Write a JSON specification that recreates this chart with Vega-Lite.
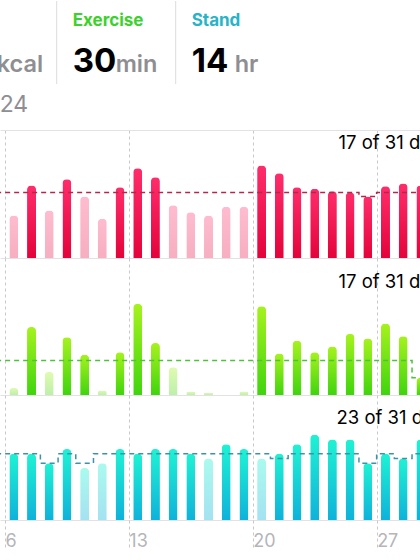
{
  "$schema": "https://vega.github.io/schema/vega-lite/v6.json",
  "padding": 0,
  "spacing": 0,
  "background": "white",
  "config": {"view": {"stroke": null}, "axis": {"minExtent": 0}, "font": "Inter", "concat": {"spacing": 0}},
  "datasets": {
    "header": [
      {"metric": "Move", "title": "", "goal": "", "unit": "kcal", "note": "24"},
      {"metric": "Exercise", "title": "Exercise", "goal": "30", "unit": "min", "note": ""},
      {"metric": "Stand", "title": "Stand", "goal": "14", "unit": "hr", "note": ""}
    ],
    "days": [
      {"day": 5, "move": 299, "moveGoal": 500, "exercise": 0, "exerciseGoal": 30, "stand": 12, "standGoal": 14},
      {"day": 6, "move": 324, "moveGoal": 500, "exercise": 6, "exerciseGoal": 30, "stand": 14, "standGoal": 14},
      {"day": 7, "move": 553, "moveGoal": 500, "exercise": 59, "exerciseGoal": 30, "stand": 14, "standGoal": 14},
      {"day": 8, "move": 363, "moveGoal": 500, "exercise": 20, "exerciseGoal": 30, "stand": 12, "standGoal": 12},
      {"day": 9, "move": 602, "moveGoal": 500, "exercise": 50, "exerciseGoal": 30, "stand": 15, "standGoal": 14},
      {"day": 10, "move": 469, "moveGoal": 500, "exercise": 35, "exerciseGoal": 30, "stand": 11, "standGoal": 12},
      {"day": 11, "move": 299, "moveGoal": 500, "exercise": 4, "exerciseGoal": 30, "stand": 12, "standGoal": 14},
      {"day": 12, "move": 540, "moveGoal": 500, "exercise": 37, "exerciseGoal": 30, "stand": 15, "standGoal": 14},
      {"day": 13, "move": 685, "moveGoal": 500, "exercise": 79, "exerciseGoal": 30, "stand": 14, "standGoal": 14},
      {"day": 14, "move": 617, "moveGoal": 500, "exercise": 45, "exerciseGoal": 30, "stand": 15, "standGoal": 14},
      {"day": 15, "move": 403, "moveGoal": 500, "exercise": 24, "exerciseGoal": 30, "stand": 15, "standGoal": 14},
      {"day": 16, "move": 350, "moveGoal": 500, "exercise": 3, "exerciseGoal": 30, "stand": 14, "standGoal": 14},
      {"day": 17, "move": 324, "moveGoal": 500, "exercise": 2, "exerciseGoal": 30, "stand": 13, "standGoal": 14},
      {"day": 18, "move": 391, "moveGoal": 500, "exercise": 0, "exerciseGoal": 30, "stand": 16, "standGoal": 14},
      {"day": 19, "move": 391, "moveGoal": 500, "exercise": 3, "exerciseGoal": 30, "stand": 15, "standGoal": 14},
      {"day": 20, "move": 706, "moveGoal": 500, "exercise": 77, "exerciseGoal": 30, "stand": 13, "standGoal": 14},
      {"day": 21, "move": 647, "moveGoal": 500, "exercise": 36, "exerciseGoal": 30, "stand": 14, "standGoal": 13},
      {"day": 22, "move": 540, "moveGoal": 500, "exercise": 47, "exerciseGoal": 30, "stand": 16, "standGoal": 14},
      {"day": 23, "move": 528, "moveGoal": 500, "exercise": 37, "exerciseGoal": 30, "stand": 18, "standGoal": 14},
      {"day": 24, "move": 510, "moveGoal": 500, "exercise": 42, "exerciseGoal": 30, "stand": 17, "standGoal": 14},
      {"day": 25, "move": 500, "moveGoal": 500, "exercise": 53, "exerciseGoal": 30, "stand": 17, "standGoal": 14},
      {"day": 26, "move": 469, "moveGoal": 469, "exercise": 49, "exerciseGoal": 30, "stand": 12, "standGoal": 12},
      {"day": 27, "move": 548, "moveGoal": 500, "exercise": 62, "exerciseGoal": 30, "stand": 14, "standGoal": 14},
      {"day": 28, "move": 569, "moveGoal": 500, "exercise": 51, "exerciseGoal": 30, "stand": 13, "standGoal": 13},
      {"day": 29, "move": 553, "moveGoal": 500, "exercise": 15, "exerciseGoal": 15, "stand": 17, "standGoal": 14}
    ]
  },
  "vconcat": [
    {
      "width": 420,
      "height": 83,
      "data": {"name": "header"},
      "encoding": {
        "x": {"field": "metric", "type": "nominal", "scale": {"type": "point", "domain": ["Move", "Exercise", "Stand"], "range": [-46.3, 191.7], "padding": 0}, "axis": null}
      },
      "layer": [
        {
          "transform": [{"filter": "datum.metric != 'Move'"}],
          "mark": {"type": "rule", "color": "#dcdce0", "strokeWidth": 1, "xOffset": -16}
        },
        {
          "mark": {"type": "text", "align": "left", "baseline": "alphabetic", "dy": -17, "fontSize": 17, "fontWeight": "bold", "clip": true},
          "encoding": {
            "text": {"field": "title"},
            "color": {"field": "metric", "type": "nominal", "scale": {"domain": ["Move", "Exercise", "Stand"], "range": ["#FA114F", "#3CD22C", "#27B3C8"]}, "legend": null}
          }
        },
        {
          "mark": {"type": "text", "align": "left", "baseline": "alphabetic", "dy": 29.5, "fontSize": 33, "fontWeight": "bold", "color": "#000000", "clip": true},
          "encoding": {"text": {"field": "goal"}}
        },
        {
          "mark": {"type": "text", "align": "left", "baseline": "alphabetic", "dx": 43, "dy": 29.5, "fontSize": 23.5, "fontWeight": 600, "color": "#8E8E93", "clip": true},
          "encoding": {"text": {"field": "unit"}}
        }
      ]
    },
    {
      "width": 420,
      "height": 45,
      "data": {"name": "header"},
      "mark": {"type": "text", "align": "left", "baseline": "alphabetic", "dx": 46, "dy": 4.5, "fontSize": 23, "color": "#8E8E93", "clip": true},
      "encoding": {
        "x": {"field": "metric", "type": "nominal", "scale": {"type": "point", "domain": ["Move", "Exercise", "Stand"], "range": [-46.3, 191.7], "padding": 0}, "axis": null},
        "text": {"field": "note"}
      }
    },
    {
      "width": 420,
      "height": 128,
      "data": {"name": "days"},
      "encoding": {
        "x": {"field": "day", "type": "quantitative", "scale": {"domain": [5.218, 28.95], "nice": false, "zero": false, "padding": 0},
          "axis": {"values": [5.5, 12.5, 19.5, 26.5], "grid": true, "gridDash": [3, 3], "gridColor": "#c8c8cc", "labels": false, "ticks": false, "domain": false, "title": null}}
      },
      "layer": [
        {
          "transform": [{"filter": "datum.day >= 6"}],
          "mark": {"type": "bar", "size": 9, "cornerRadiusEnd": 4,
            "color": {"gradient": "linear", "x1": 0, "y1": 0, "x2": 0, "y2": 1, "stops": [{"offset": 0, "color": "#FE2D6B"}, {"offset": 1, "color": "#E4033B"}]}},
          "encoding": {
            "y": {"field": "move", "type": "quantitative", "scale": {"domain": [0, 977], "nice": false, "zero": true},
              "axis": {"values": [0, 977], "grid": true, "gridColor": "#e2e2e5", "labels": false, "ticks": false, "domain": false,
                "title": "17 of 31 days", "titleAngle": 0, "titleX": 338, "titleY": 18.7, "titleAlign": "left", "titleBaseline": "alphabetic", "titleFontSize": 18.5, "titleFontWeight": "normal", "titleColor": "#000000", "titleFont": "Inter", "titleLimit": 1000}},
            "opacity": {"condition": {"test": "datum.move >= datum.moveGoal", "value": 1}, "value": 0.32}
          }
        },
        {
          "mark": {"type": "line", "interpolate": "step", "strokeDash": [5, 4], "strokeWidth": 1.5, "color": "#B2284A", "clip": true},
          "encoding": {"y": {"field": "moveGoal", "type": "quantitative"}}
        }
      ]
    },
    {
      "width": 420,
      "height": 137,
      "data": {"name": "days"},
      "encoding": {
        "x": {"field": "day", "type": "quantitative", "scale": {"domain": [5.218, 28.95], "nice": false, "zero": false, "padding": 0},
          "axis": {"values": [5.5, 12.5, 19.5, 26.5], "grid": true, "gridDash": [3, 3], "gridColor": "#c8c8cc", "labels": false, "ticks": false, "domain": false, "title": null}}
      },
      "layer": [
        {
          "transform": [{"filter": "datum.day >= 6"}],
          "mark": {"type": "bar", "size": 9, "cornerRadiusEnd": 4,
            "color": {"gradient": "linear", "x1": 0, "y1": 0, "x2": 0, "y2": 1, "stops": [{"offset": 0, "color": "#A6F21E"}, {"offset": 1, "color": "#40D40E"}]}},
          "encoding": {
            "y": {"field": "exercise", "type": "quantitative", "scale": {"domain": [0, 118.8], "nice": false, "zero": true},
              "axis": {"values": [0], "grid": true, "gridColor": "#e2e2e5", "labels": false, "ticks": false, "domain": false,
                "title": "17 of 31 days", "titleAngle": 0, "titleX": 338, "titleY": 29, "titleAlign": "left", "titleBaseline": "alphabetic", "titleFontSize": 18.5, "titleFontWeight": "normal", "titleColor": "#000000", "titleFont": "Inter", "titleLimit": 1000}},
            "opacity": {"condition": {"test": "datum.exercise >= datum.exerciseGoal", "value": 1}, "value": 0.35}
          }
        },
        {
          "mark": {"type": "line", "interpolate": "step", "strokeDash": [5, 4], "strokeWidth": 1.5, "color": "#4DC23A", "clip": true},
          "encoding": {"y": {"field": "exerciseGoal", "type": "quantitative"}}
        }
      ]
    },
    {
      "width": 420,
      "height": 125,
      "data": {"name": "days"},
      "encoding": {
        "x": {"field": "day", "type": "quantitative", "scale": {"domain": [5.218, 28.95], "nice": false, "zero": false, "padding": 0},
          "axis": {"values": [5.5, 12.5, 19.5, 26.5], "grid": true, "gridDash": [3, 3], "gridColor": "#c8c8cc", "domain": false, "title": null,
            "ticks": true, "tickSize": 29, "tickDash": [3, 3], "tickColor": "#c8c8cc",
            "labelExpr": "datum.value + 0.5", "labelAlign": "left", "labelDx": 6, "labelFontSize": 18, "labelColor": "#b5b5ba", "labelBaseline": "alphabetic", "labelPadding": -3, "labelFlush": false, "labelOverlap": false, "labelFont": "Inter"}}
      },
      "layer": [
        {
          "transform": [{"filter": "datum.day >= 6"}],
          "mark": {"type": "bar", "size": 9, "cornerRadiusEnd": 4,
            "color": {"gradient": "linear", "x1": 0, "y1": 0, "x2": 0, "y2": 1, "stops": [{"offset": 0, "color": "#1FF2D3"}, {"offset": 1, "color": "#0FB2DA"}]}},
          "encoding": {
            "y": {"field": "stand", "type": "quantitative", "scale": {"domain": [0, 26.4], "nice": false, "zero": true},
              "axis": {"values": [0], "grid": true, "gridColor": "#e2e2e5", "labels": false, "ticks": false, "domain": false,
                "title": "23 of 31 days", "titleAngle": 0, "titleX": 336, "titleY": 28.7, "titleAlign": "left", "titleBaseline": "alphabetic", "titleFontSize": 18.5, "titleFontWeight": "normal", "titleColor": "#000000", "titleFont": "Inter", "titleLimit": 1000}},
            "opacity": {"condition": {"test": "datum.stand >= datum.standGoal", "value": 1}, "value": 0.38}
          }
        },
        {
          "mark": {"type": "line", "interpolate": "step", "strokeDash": [5, 4], "strokeWidth": 1.5, "color": "#3A93A6", "clip": true},
          "encoding": {"y": {"field": "standGoal", "type": "quantitative"}}
        }
      ]
    }
  ]
}
